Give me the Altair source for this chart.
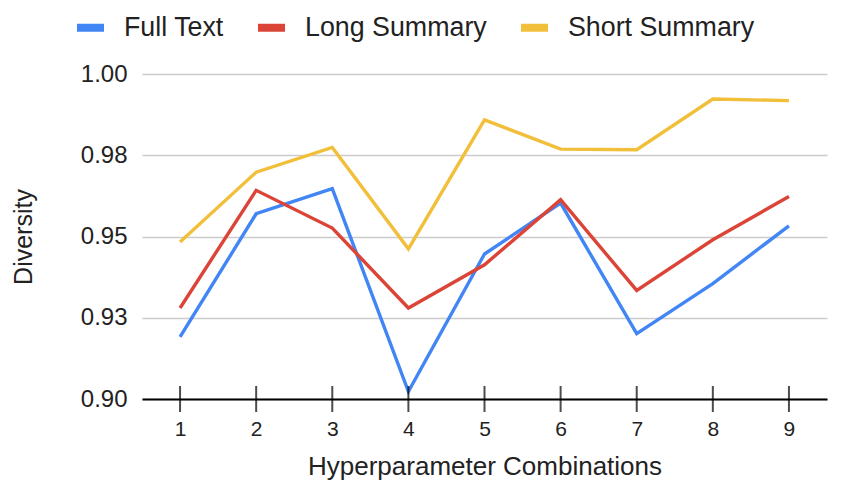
import altair as alt
import pandas as pd

combinations = [1, 2, 3, 4, 5, 6, 7, 8, 9]
series_names = ["Full Text", "Long Summary", "Short Summary"]
full_text = [0.9191, 0.9570, 0.9647, 0.9023, 0.9446, 0.9603, 0.9201, 0.9355, 0.9533]
long_summary = [0.9280, 0.9642, 0.9526, 0.9280, 0.9413, 0.9613, 0.9334, 0.9490, 0.9623]
short_summary = [0.9483, 0.9698, 0.9774, 0.9462, 0.9859, 0.9769, 0.9767, 0.9923, 0.9918]
colors = ["#4285F4", "#DB4437", "#F2BF3A"]
y_ticks = [0.900, 0.925, 0.950, 0.975, 1.000]
y_tick_labels = ["0.90", "0.93", "0.95", "0.98", "1.00"]
x_ticks = [1, 2, 3, 4, 5, 6, 7, 8, 9]

rows = []
for name, vals in zip(series_names, [full_text, long_summary, short_summary]):
    for c, v in zip(combinations, vals):
        rows.append({"Combination": c, "Series": name, "Diversity": v})
df = pd.DataFrame(rows)
ticks_df = pd.DataFrame({"Combination": x_ticks, "base": [y_ticks[0]] * len(x_ticks)})

label_expr = ""
for v, lab in zip(y_ticks, y_tick_labels):
    label_expr += f"abs(datum.value - {v}) < 1e-6 ? '{lab}' : "
label_expr += "''"

FONT = "Liberation Sans"

x_scale = alt.Scale(domain=[0.5, 9.5], nice=False, zero=False)
y_scale = alt.Scale(domain=[0.9, 1.0], nice=False, zero=False)

lines = alt.Chart(df).mark_line(strokeWidth=3.4).encode(
    x=alt.X("Combination:Q", scale=x_scale,
            axis=alt.Axis(values=x_ticks, format="d", title="Hyperparameter Combinations",
                          grid=False, ticks=False, domain=True, domainColor="black",
                          domainWidth=2, labelFontSize=21, labelPadding=19,
                          titleFontSize=26, titlePadding=14, labelColor="#222",
                          titleColor="#222", labelFont=FONT, titleFont=FONT,
                          titleFontWeight="normal", zindex=1)),
    y=alt.Y("Diversity:Q", scale=y_scale,
            axis=alt.Axis(values=y_ticks, labelExpr=label_expr, title="Diversity",
                          grid=True, gridColor="#cccccc", gridWidth=1.5, ticks=False,
                          domain=False, labelFontSize=24, labelPadding=15,
                          titleFontSize=25, titlePadding=44, labelColor="#222",
                          titleColor="#222", labelFont=FONT, titleFont=FONT,
                          titleFontWeight="normal")),
    color=alt.Color("Series:N",
                    scale=alt.Scale(domain=series_names, range=colors),
                    legend=alt.Legend(title=None, orient="none", direction="horizontal",
                                      legendX=-69, legendY=-64,
                                      symbolType="stroke", symbolSize=729,
                                      symbolStrokeWidth=8, labelFontSize=26.8,
                                      labelFont=FONT, labelColor="#222",
                                      labelOffset=16, columnPadding=18,
                                      labelLimit=400)),
)

tick_marks = alt.Chart(ticks_df).mark_tick(orient="vertical", size=26, thickness=2,
                                           color="black").encode(
    x=alt.X("Combination:Q", scale=x_scale),
    y=alt.Y("base:Q", scale=y_scale),
)

chart = alt.layer(lines, tick_marks).properties(
    width=685, height=325,
    autosize=alt.AutoSizeParams(type="none"),
    padding={"left": 134, "top": 66, "right": 12, "bottom": 90},
).configure(background="white").configure_view(stroke=None, strokeWidth=0)

chart.save("out.html", embed_options={"renderer": "svg", "actions": False})
